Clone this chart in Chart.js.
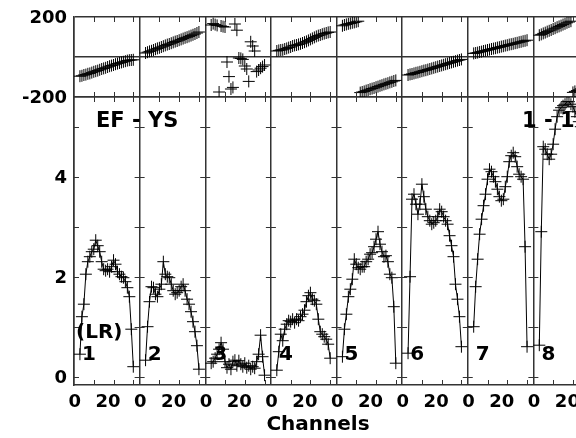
<!DOCTYPE html>
<html>
<head>
<meta charset="utf-8">
<script src="https://cdn.jsdelivr.net/npm/chart.js@4.4.1/dist/chart.umd.min.js"></script>
<style>
    html, body { margin: 0; padding: 0; background: #fff; overflow: hidden; }
    #wrap { position: relative; width: 576px; height: 438px; overflow: hidden; background: #fff; }
    canvas { position: absolute; left: 0; top: 0; }
</style>
</head>
<body>
<div id="wrap">
    <canvas id="phaseChart" width="606" height="438" style="width:606px;height:438px"></canvas>
    <canvas id="ampChart" width="606" height="438" style="width:606px;height:438px"></canvas>
</div>
<script>
// channels plotted in every IF panel
const channels = [3, 4, 5, 6, 7, 8, 9, 10, 11, 12, 13, 14, 15, 16, 17, 18, 19, 20, 21, 22, 23, 24, 25, 26, 27, 28, 29, 30];
const panelWidth = 33.2; // channel span of one IF panel
const panelLabels = ["1", "2", "3", "4", "5", "6", "7", "8"];

// amplitude per IF
const ampIF1 = [0.45, 1.2, 1.45, 2.05, 2.3, 2.4, 2.5, 2.55, 2.73, 2.62, 2.5, 2.3, 2.15, 2.12, 2.15, 2.1, 2.2, 2.33, 2.25, 2.1, 2.05, 2.0, 1.98, 1.9, 1.78, 1.6, 0.95, 0.2];
const ampIF2 = [0.33, 1.0, 1.5, 1.8, 1.78, 1.65, 1.6, 1.75, 1.85, 2.3, 2.05, 2.0, 1.98, 1.85, 1.72, 1.65, 1.68, 1.72, 1.8, 1.85, 1.72, 1.55, 1.45, 1.3, 1.1, 0.9, 0.62, 0.15];
const ampIF3 = [0.27, 0.3, 0.37, 0.45, 0.55, 0.68, 0.55, 0.3, 0.18, 0.25, 0.15, 0.3, 0.33, 0.22, 0.32, 0.25, 0.2, 0.27, 0.18, 0.22, 0.15, 0.2, 0.17, 0.3, 0.45, 0.83, 0.4, 0.03];
const ampIF4 = [0.13, 0.5, 0.85, 0.72, 0.95, 1.05, 1.12, 1.1, 1.15, 1.08, 1.15, 1.12, 1.2, 1.25, 1.33, 1.5, 1.62, 1.68, 1.55, 1.52, 1.45, 1.15, 0.9, 0.85, 0.8, 0.75, 0.65, 0.37];
const ampIF5 = [0.4, 0.95, 1.25, 1.6, 1.75, 1.95, 2.35, 2.25, 2.18, 2.15, 2.2, 2.2, 2.3, 2.35, 2.45, 2.48, 2.6, 2.75, 2.9, 2.65, 2.5, 2.4, 2.42, 2.3, 2.05, 1.98, 1.4, 0.27];
const ampIF6 = [0.47, 2.0, 3.55, 3.65, 3.45, 3.25, 3.45, 3.85, 3.6, 3.35, 3.2, 3.12, 3.05, 3.08, 3.12, 3.2, 3.35, 3.3, 3.2, 3.12, 3.05, 2.82, 2.62, 2.4, 1.85, 1.55, 1.2, 0.6];
const ampIF7 = [1.0, 1.8, 2.35, 2.85, 3.15, 3.42, 3.65, 3.95, 4.15, 4.1, 4.0, 3.9, 3.75, 3.6, 3.52, 3.55, 3.8, 4.0, 4.3, 4.42, 4.48, 4.4, 4.2, 4.05, 4.0, 3.95, 2.6, 0.6];
const ampIF8 = [0.63, 2.9, 4.6, 4.55, 4.45, 4.35, 4.45, 4.65, 4.95, 5.2, 5.33, 5.38, 5.42, 5.45, 5.5, 5.5, 5.45, 5.4, 5.3, 5.2, 5.1, 5.0, 4.8, 4.6, 4.4, 4.0, 3.0, 0.8];

// phase (degrees) per IF
const phaseIF1 = [-96, -94, -90, -88, -84, -82, -78, -74, -71, -68, -64, -60, -57, -54, -50, -46, -43, -40, -36, -33, -30, -27, -24, -21, -18, -16, -15, -14];
const phaseIF2 = [20, 24, 28, 31, 35, 39, 43, 46, 50, 54, 58, 62, 65, 69, 73, 77, 80, 84, 88, 92, 96, 99, 103, 107, 111, 115, 120, 125];
const phaseIF3 = [160, 167, 162, 158, -175, 155, 152, 150, -25, -98, -160, -152, 165, 134, -5, -7, -12, -45, -60, -122, 76, 55, 30, -73, -65, -56, -48, -40];
const phaseIF4 = [30, 33, 35, 36, 40, 43, 47, 50, 55, 58, 60, 63, 66, 70, 74, 78, 83, 88, 93, 98, 103, 107, 110, 114, 117, 120, 123, 125];
const phaseIF5 = [156, 160, 163, 166, 168, 171, 173, 176, 179, -178, -175, -172, -168, -165, -161, -158, -155, -151, -148, -144, -141, -137, -134, -131, -127, -124, -120, -117];
const phaseIF6 = [-90, -87, -85, -82, -79, -77, -74, -71, -68, -66, -63, -60, -57, -54, -51, -48, -45, -42, -39, -36, -33, -30, -27, -24, -21, -18, -15, -12];
const phaseIF7 = [18, 20, 22, 25, 27, 30, 32, 35, 37, 40, 42, 44, 47, 49, 52, 54, 57, 59, 62, 64, 66, 69, 71, 74, 76, 79, 81, 84];
const phaseIF8 = [109, 113, 118, 122, 127, 131, 135, 140, 144, 149, 153, 157, 162, 166, 171, 175, 179, -177, -172, -168, -164, -159, -155, -150, -146, -142, -137, -133];

// axes
const ampTicks = [0, 1, 2, 3, 4, 5];
const ampTickLabels = ["0", "", "2", "", "4", ""];
const phaseTicks = [-200, 0, 200];
const phaseTickLabels = ["-200", "", "200"];
const xTickChannels = [0, 20];
const xTickLabels = ["0", "20"];
const xMinorChannels = [10, 20, 30];

const baselineLabel = "EF - YS";
const timeLabel = "1 - 12";
const polLabel = "(LR)";
const xTitle = "Channels";

const lineColor = "#333";
const nPanels = panelLabels.length;

Chart.defaults.font.family = "'DejaVu Sans', sans-serif";
Chart.defaults.font.weight = "bold";
Chart.defaults.font.size = 18;
Chart.defaults.color = "#000";

// x ticks: "0" and "20" in every panel, panel edges get a full line
const xTickList = [];
for (let p = 0; p < nPanels; p++) {
    xTickChannels.forEach((c, j) => {
        xTickList.push({ value: p * panelWidth + c, label: xTickLabels[j], edge: c === 0 });
    });
}
xTickList.push({ value: nPanels * panelWidth, label: "", edge: true });

function toPoints(values, panel) {
    return values.map((v, i) => ({ x: panel * panelWidth + channels[i], y: v }));
}

function fixSize(prop, size) {
    return function (s) {
        s[prop] = size;
        s.paddingTop = 0;
        s.paddingBottom = 0;
        s.paddingLeft = 0;
        s.paddingRight = 0;
    };
}

function xAxis(showLabels, height) {
    return {
        type: "linear",
        min: 0,
        max: nPanels * panelWidth,
        afterBuildTicks: s => { s.ticks = xTickList.map(t => ({ value: t.value })); },
        afterFit: fixSize("height", height),
        grid: {
            color: ctx => (xTickList[ctx.index] && xTickList[ctx.index].edge ? lineColor : "rgba(0,0,0,0)"),
            lineWidth: 1.5,
            drawTicks: false
        },
        border: { display: true, color: lineColor, width: 1.5 },
        ticks: {
            display: showLabels,
            autoSkip: false,
            maxRotation: 0,
            align: "end",
            labelOffset: 7,
            padding: 7,
            callback: (v, i) => xTickList[i].label
        }
    };
}

// small tick marks inside the frames
const innerTicks = {
    id: "innerTicks",
    afterDraw(chart, args, opts) {
        const { ctx, chartArea: a, scales: { x, y } } = chart;
        ctx.save();
        ctx.strokeStyle = lineColor;
        ctx.lineWidth = 1;
        ctx.beginPath();
        for (let p = 0; p < nPanels; p++) {
            for (const c of xMinorChannels) {
                const px = Math.round(x.getPixelForValue(p * panelWidth + c)) + 0.5;
                ctx.moveTo(px, a.top);
                ctx.lineTo(px, a.top + 5);
                ctx.moveTo(px, a.bottom);
                ctx.lineTo(px, a.bottom - 5);
            }
        }
        if (opts.yTicks) {
            for (let p = 0; p <= nPanels; p++) {
                const px = x.getPixelForValue(p * panelWidth);
                for (const v of opts.yTicks) {
                    const py = Math.round(y.getPixelForValue(v)) + 0.5;
                    ctx.moveTo(p === 0 ? px : px - 5, py);
                    ctx.lineTo(px + 5, py);
                }
            }
        }
        ctx.stroke();
        ctx.restore();
    }
};

const textLabels = {
    id: "textLabels",
    afterDraw(chart) {
        const { ctx, scales: { x, y } } = chart;
        ctx.save();
        ctx.fillStyle = "#000";
        ctx.textBaseline = "middle";
        ctx.textAlign = "left";
        ctx.font = "bold 21px 'DejaVu Sans'";
        ctx.fillText(baselineLabel, 96, 122);
        ctx.fillText(timeLabel, 522, 122);
        ctx.font = "bold 20px 'DejaVu Sans'";
        ctx.fillText(polLabel, 76, y.getPixelForValue(0.87));
        panelLabels.forEach((t, p) => {
            ctx.fillText(t, x.getPixelForValue(p * panelWidth) + 8, y.getPixelForValue(0.43));
        });
        ctx.textAlign = "center";
        ctx.fillText(xTitle, 318, 425);
        ctx.restore();
    }
};

const pointStyle = {
    pointStyle: "cross",
    pointRadius: 6,
    pointBorderWidth: 1,
    pointBorderColor: "#000",
    pointBackgroundColor: "#000"
};

// top: phase
const phaseSeries = [phaseIF1, phaseIF2, phaseIF3, phaseIF4, phaseIF5, phaseIF6, phaseIF7, phaseIF8];
new Chart(document.getElementById("phaseChart"), {
    type: "scatter",
    data: {
        datasets: phaseSeries.map((vals, p) => Object.assign({
            label: "Phase IF " + panelLabels[p],
            data: toPoints(vals, p),
            showLine: false
        }, pointStyle))
    },
    options: {
        responsive: false,
        animation: false,
        layout: { padding: { top: 17, bottom: 438 - 97, left: 0, right: 0.8 } },
        plugins: { legend: { display: false }, tooltip: { enabled: false }, innerTicks: {} },
        scales: {
            x: xAxis(false, 0),
            y: {
                min: -200,
                max: 200,
                afterBuildTicks: s => { s.ticks = phaseTicks.map(v => ({ value: v })); },
                afterFit: fixSize("width", 74),
                grid: { color: lineColor, lineWidth: 1.5, drawTicks: false },
                border: { display: true, color: lineColor, width: 1.5 },
                ticks: { padding: 7, labelOffset: 1, callback: (v, i) => phaseTickLabels[i] }
            }
        }
    },
    plugins: [innerTicks]
});

// bottom: amplitude
const ampSeries = [ampIF1, ampIF2, ampIF3, ampIF4, ampIF5, ampIF6, ampIF7, ampIF8];
new Chart(document.getElementById("ampChart"), {
    type: "scatter",
    data: {
        datasets: ampSeries.map((vals, p) => Object.assign({
            label: "Amplitude IF " + panelLabels[p],
            data: toPoints(vals, p),
            showLine: true,
            borderColor: "#000",
            borderWidth: 1
        }, pointStyle))
    },
    options: {
        responsive: false,
        animation: false,
        layout: { padding: { top: 97, bottom: 0, left: 0, right: 0.8 } },
        plugins: { legend: { display: false }, tooltip: { enabled: false }, innerTicks: { yTicks: ampTicks } },
        scales: {
            x: xAxis(true, 53),
            y: {
                min: -0.166,
                max: 5.594,
                afterBuildTicks: s => { s.ticks = ampTicks.map(v => ({ value: v })); },
                afterFit: fixSize("width", 74),
                grid: { display: false, drawTicks: false },
                border: { display: true, color: lineColor, width: 1.5 },
                ticks: { padding: 7, labelOffset: 2, callback: (v, i) => ampTickLabels[i] }
            }
        }
    },
    plugins: [innerTicks, textLabels]
});
</script>
</body>
</html>
